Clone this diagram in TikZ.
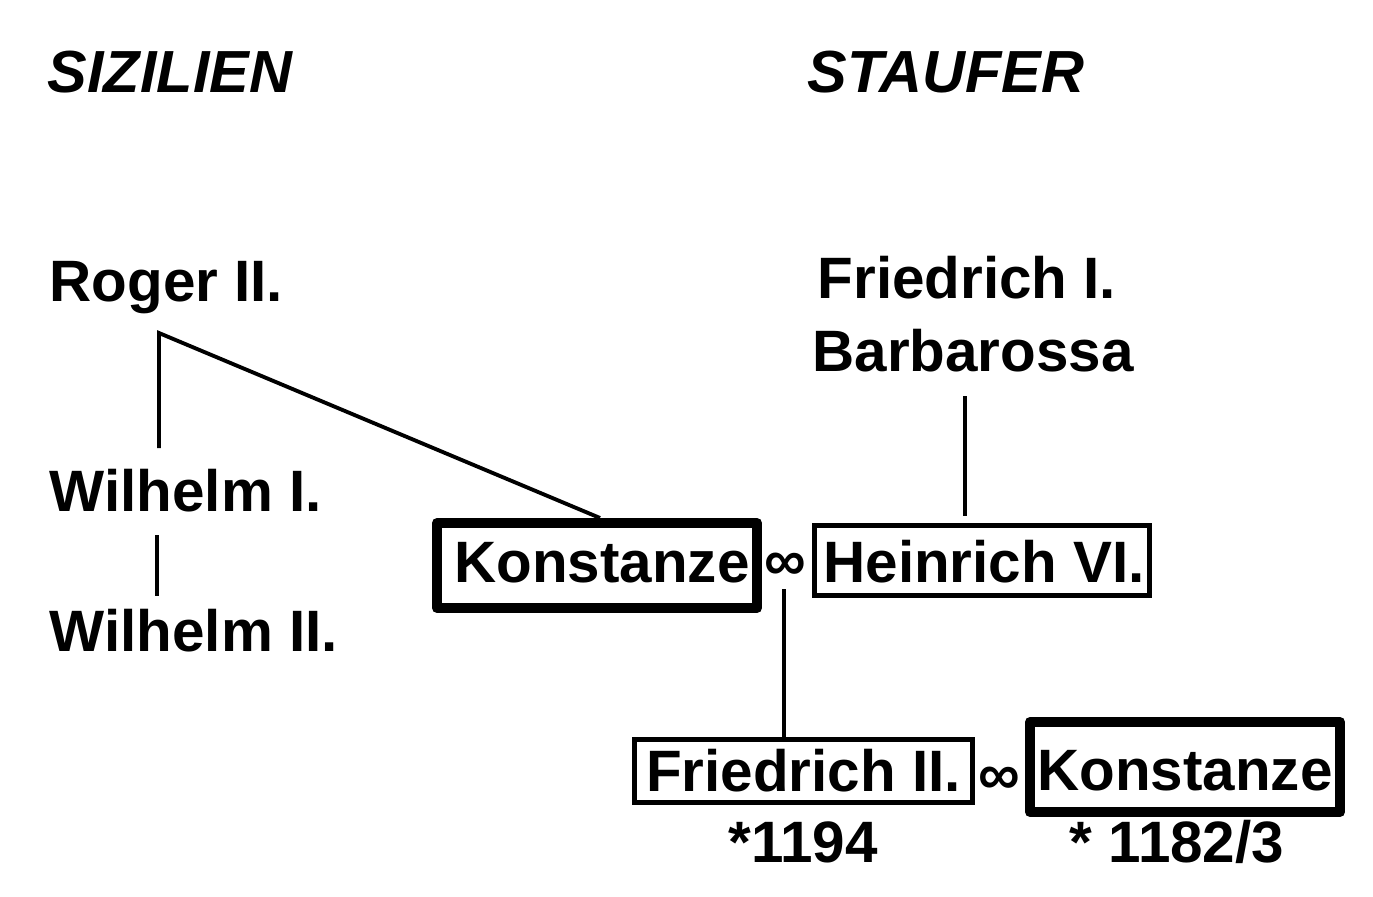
\documentclass[tikz,border=0pt]{standalone}
\usepackage{fontspec}
\setmainfont{Liberation Sans}
\begin{document}
\begin{tikzpicture}[x=0.01cm,y=-0.01cm,
  lbl/.style={inner sep=0pt,font=\fontsize{16.6pt}{19pt}\selectfont\bfseries},
  head/.style={inner sep=0pt,font=\fontsize{16.9pt}{19pt}\selectfont\bfseries\itshape},
  boxtxt/.style={inner sep=0pt,text depth=0pt,font=\fontsize{16.6pt}{19pt}\selectfont\bfseries},
  thinbox/.style={boxtxt,draw,line width=1.42pt},
  thickbox/.style={boxtxt,draw,line width=2.85pt,line join=round},
  conn/.style={line width=1.1pt}]
\useasboundingbox (0,0) rectangle (1373,896);
\fill[white] (0,0) rectangle (1373,896);
% headings
\node[head,anchor=base west] (siz) at (47,92) {SIZILIEN};
\node[head,anchor=base west] (stau) at (807,92) {STAUFER};
% Sicily
\node[lbl,anchor=base west] (roger) at (49,301) {Roger II.};
\node[lbl,anchor=base west] (wil1) at (49,511) {Wilhelm I.};
\node[lbl,anchor=base west] (wil2) at (49,651) {Wilhelm II.};
% Staufer
\node[lbl,anchor=base] (fr1) at (967,298) {Friedrich I.};
\node[lbl,anchor=base] (barb) at (973,371) {Barbarossa};
% boxes
\node[thickbox,text height=0.33cm,minimum width=3.20cm,minimum height=0.85cm] (k1) at (597,565.5) {\hspace*{0.1cm}Konstanze};
\node[thinbox,text height=0.43cm,minimum width=3.35cm,minimum height=0.70cm] (h6) at (982,560.5) {\hspace*{0.04cm}Heinrich VI.};
\node[thinbox,text height=0.41cm,minimum width=3.38cm,minimum height=0.63cm] (f2) at (803.5,771) {Friedrich II.};
\node[thickbox,text height=0.46cm,minimum width=3.10cm,minimum height=0.90cm] (k2) at (1185,767) {Konstanze};
% marriage signs
\node[lbl,anchor=center] (inf1) at (785,567) {∞};
\node[lbl,anchor=center] (inf2) at (999,781) {∞};
% birth years
\node[lbl,anchor=base] (y1) at (803,862) {*1194};
\node[lbl,anchor=base] (y2) at (1177,862) {* 1182/3};
% connectors
\coordinate (rtop) at (159,333);
\coordinate (rbot) at (159,448);
\draw[conn] (rbot) -- (rtop) -- ([xshift=0.03cm]k1.north);
\coordinate (wa) at (157,535);
\coordinate (wb) at (157,596);
\draw[conn] (wa) -- (wb);
\coordinate (ba) at (965,396);
\coordinate (bb) at (965,516);
\draw[conn] (ba) -- (bb);
\coordinate (ia) at (784,589);
\draw[conn] (ia) -- (ia |- f2.north);
\end{tikzpicture}
\end{document}
